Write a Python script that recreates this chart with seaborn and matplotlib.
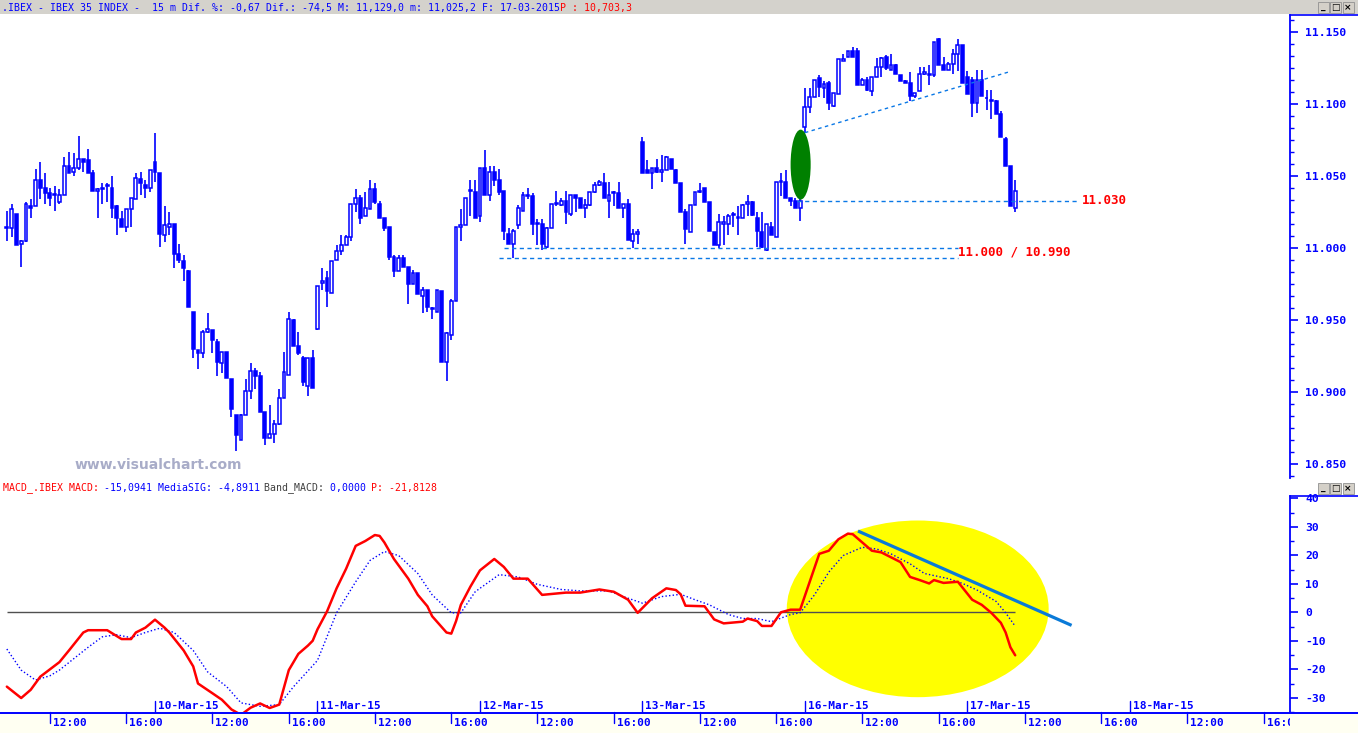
import numpy as np
import pandas as pd
import matplotlib
matplotlib.use("Agg")
import matplotlib.pyplot as plt
import matplotlib.transforms as mtrans
from matplotlib.patches import Ellipse, Rectangle
from matplotlib.lines import Line2D
import seaborn as sns

# ------------------------------------------------------------------ data
# 15-minute bars, bar 0 = 09-Mar-15 09:00, 34 bars per trading day
first_bar = 3
bars_per_day = 34
trading_days = ["09-Mar-15", "10-Mar-15", "11-Mar-15", "12-Mar-15",
                "13-Mar-15", "16-Mar-15", "17-Mar-15", "18-Mar-15"]
hour_labels = ["12:00", "16:00"]

opens = [11014, 11014, 11024, 11003, 11005, 11029, 11029, 11047, 11042, 11038,
         11037, 11032, 11037, 11057, 11053, 11056, 11062, 11061, 11052, 11040,
         11041, 11044, 11042, 11029, 11020, 11015, 11027, 11034, 11048, 11044,
         11042, 11060, 11052, 11009, 11015, 11017, 10996, 10991, 10984, 10956,
         10929, 10927, 10942, 10943, 10935, 10920, 10928, 10909, 10884, 10867,
         10884, 10901, 10915, 10911, 10886, 10868, 10871, 10878, 10896, 10912,
         10950, 10932, 10924, 10904, 10924, 10944, 10976, 10979, 10969, 10992,
         10998, 11002, 11008, 11031, 11035, 11022, 11027, 11041, 11031, 11021,
         11015, 10994, 10984, 10993, 10987, 10975, 10983, 10967, 10971, 10958,
         10956, 10970, 10921, 10940, 10963, 11015, 11016, 11040, 11039, 11022,
         11056, 11037, 11053, 11047, 11040, 11010, 11003, 11016, 11026, 11037,
         11036, 11017, 11017, 11001, 11014, 11031, 11030, 11033, 11024, 11037,
         11035, 11028, 11030, 11039, 11044, 11045, 11033, 11038, 11038, 11028,
         11031, 11005, 11010, 11074, 11054, 11052, 11056, 11053, 11054, 11062,
         11054, 11045, 11025, 11011, 11030, 11039, 11042, 11032, 11011, 11002,
         11017, 11017, 11024, 11021, 11021, 11031, 11032, 11021, 11011, 10999,
         11015, 11008, 11046, 11046, 11035, 11033, 11028, 11084, 11098, 11105,
         11118, 11111, 11115, 11099, 11107, 11130, 11133, 11137, 11137, 11113,
         11117, 11109, 11119, 11126, 11133, 11124, 11127, 11120, 11116, 11115,
         11106, 11109, 11121, 11120, 11120, 11145, 11127, 11124, 11128, 11135,
         11141, 11119, 11117, 11101, 11117, 11104, 11103, 11102, 11093, 11076,
         11057, 11028]
highs = [11026, 11031, 11024, 11006, 11032, 11034, 11055, 11060, 11052, 11042,
         11043, 11041, 11063, 11067, 11066, 11078, 11062, 11069, 11054, 11042,
         11045, 11045, 11050, 11030, 11026, 11027, 11035, 11052, 11053, 11047,
         11054, 11080, 11052, 11029, 11025, 11017, 11003, 10995, 10985, 10956,
         10929, 10943, 10955, 10943, 10937, 10928, 10928, 10909, 10884, 10885,
         10909, 10920, 10917, 10914, 10886, 10891, 10881, 10902, 10928, 10956,
         10951, 10942, 10925, 10924, 10929, 10974, 10986, 10984, 10991, 11002,
         11009, 11009, 11031, 11041, 11037, 11039, 11047, 11045, 11033, 11021,
         11015, 10995, 10995, 10995, 10987, 10985, 10983, 10973, 10971, 10959,
         10971, 10970, 10942, 10965, 11015, 11027, 11035, 11047, 11047, 11056,
         11068, 11057, 11057, 11055, 11040, 11014, 11013, 11030, 11039, 11042,
         11038, 11020, 11020, 11015, 11031, 11040, 11035, 11040, 11037, 11037,
         11035, 11034, 11039, 11046, 11047, 11052, 11046, 11040, 11046, 11031,
         11034, 11013, 11013, 11077, 11061, 11056, 11062, 11065, 11064, 11062,
         11055, 11045, 11027, 11030, 11039, 11045, 11042, 11032, 11011, 11024,
         11022, 11024, 11025, 11029, 11031, 11037, 11033, 11025, 11025, 11017,
         11018, 11046, 11052, 11054, 11035, 11035, 11036, 11111, 11111, 11117,
         11120, 11116, 11116, 11108, 11131, 11135, 11137, 11140, 11139, 11118,
         11119, 11119, 11132, 11133, 11134, 11135, 11128, 11120, 11117, 11122,
         11108, 11126, 11126, 11127, 11143, 11146, 11133, 11129, 11138, 11145,
         11141, 11123, 11119, 11124, 11124, 11110, 11110, 11103, 11095, 11077,
         11057, 11047]
lows = [11005, 11008, 11002, 10987, 11004, 11021, 11029, 11034, 11031, 11029,
        11026, 11031, 11037, 11052, 11050, 11054, 11053, 11052, 11040, 11021,
        11031, 11032, 11021, 11009, 11015, 11011, 11015, 11034, 11037, 11035,
        11039, 11046, 11001, 11004, 11009, 10986, 10990, 10977, 10959, 10924,
        10916, 10924, 10941, 10927, 10911, 10913, 10910, 10883, 10859, 10867,
        10884, 10895, 10902, 10886, 10863, 10868, 10865, 10877, 10896, 10912,
        10932, 10926, 10904, 10897, 10903, 10943, 10971, 10959, 10969, 10992,
        10995, 11002, 11005, 11025, 11017, 11022, 11027, 11031, 11021, 11012,
        10992, 10980, 10984, 10987, 10961, 10975, 10968, 10955, 10956, 10951,
        10956, 10921, 10908, 10936, 10963, 11005, 11016, 11022, 11021, 11018,
        11037, 11033, 11043, 11037, 11006, 11003, 10993, 11013, 11026, 11034,
        11009, 11002, 10999, 11000, 11014, 11029, 11029, 11017, 11022, 11025,
        11028, 11021, 11029, 11038, 11043, 11035, 11021, 11029, 11028, 11021,
        11006, 11000, 11003, 11052, 11052, 11041, 11052, 11046, 11054, 11055,
        11045, 11025, 11003, 11011, 11030, 11038, 11032, 11012, 11002, 11000,
        11002, 11009, 11015, 11009, 11021, 11022, 11022, 11001, 11000, 10998,
        11009, 11008, 11036, 11035, 11029, 11028, 11019, 11080, 11094, 11105,
        11105, 11104, 11096, 11098, 11107, 11130, 11133, 11133, 11113, 11113,
        11109, 11106, 11119, 11119, 11124, 11124, 11121, 11116, 11115, 11102,
        11104, 11109, 11120, 11113, 11119, 11127, 11124, 11124, 11121, 11123,
        11115, 11107, 11091, 11094, 11106, 11096, 11090, 11093, 11077, 11057,
        11029, 11025]
closes = [11014, 11027, 11002, 11005, 11031, 11028, 11047, 11042, 11038, 11035,
          11037, 11037, 11057, 11052, 11056, 11062, 11060, 11052, 11040, 11041,
          11042, 11043, 11028, 11021, 11015, 11027, 11035, 11049, 11045, 11042,
          11054, 11053, 11010, 11016, 11017, 10996, 10992, 10986, 10959, 10930,
          10927, 10942, 10944, 10936, 10921, 10928, 10910, 10888, 10870, 10884,
          10901, 10915, 10911, 10886, 10868, 10871, 10878, 10896, 10914, 10951,
          10932, 10927, 10907, 10924, 10903, 10974, 10977, 10970, 10991, 10998,
          11002, 11008, 11031, 11035, 11021, 11028, 11041, 11032, 11021, 11014,
          10994, 10984, 10993, 10987, 10975, 10983, 10968, 10971, 10959, 10958,
          10971, 10921, 10941, 10963, 11015, 11016, 11035, 11040, 11021, 11056,
          11037, 11053, 11047, 11039, 11012, 11003, 11012, 11028, 11037, 11036,
          11017, 11017, 11003, 11014, 11031, 11031, 11033, 11025, 11037, 11035,
          11028, 11030, 11039, 11044, 11046, 11035, 11037, 11039, 11028, 11031,
          11006, 11010, 11011, 11052, 11052, 11056, 11053, 11054, 11063, 11055,
          11045, 11025, 11013, 11030, 11039, 11040, 11032, 11012, 11002, 11018,
          11018, 11022, 11023, 11021, 11030, 11032, 11023, 11012, 11001, 11017,
          11009, 11046, 11046, 11035, 11033, 11028, 11033, 11098, 11105, 11117,
          11112, 11114, 11101, 11108, 11131, 11131, 11137, 11133, 11113, 11117,
          11110, 11119, 11126, 11132, 11125, 11127, 11121, 11116, 11115, 11106,
          11108, 11121, 11122, 11121, 11143, 11127, 11124, 11128, 11135, 11141,
          11115, 11107, 11101, 11117, 11106, 11104, 11102, 11093, 11077, 11057,
          11029, 11040]

macd_bars = [3, 6, 8, 10, 14, 16, 19, 20, 24, 27, 29, 30, 32, 34, 36, 37, 40, 42, 43, 46,
             48, 50, 52, 54, 56, 58, 60, 62, 64, 66, 67, 68, 70, 72, 74, 76, 78, 80, 81, 82,
             84, 87, 89, 91, 92, 95, 96, 97, 98, 100, 102, 105, 107, 109, 112, 115, 120, 123, 127, 130,
             133, 135, 138, 141, 143, 144, 145, 149, 151, 153, 157, 158, 160, 161, 163, 165, 167, 169, 171, 173,
             175, 177, 179, 180, 184, 186, 190, 192, 194, 196, 197, 199, 202, 205, 207, 209, 211, 212, 213, 214]
macd_vals = [-26.1, -30.1, -27.2, -22.6, -17.5, -13.4, -7.1, -6.3, -6.3, -9.4, -9.4, -7.1, -5.4, -2.6, -5.4, -7.1, -13.4, -19.0, -25.0, -28.4,
             -30.7, -34.1, -36.0, -33.5, -32.0, -33.6, -32.4, -20.3, -14.6, -11.7, -10.0, -6.0, 0.3, 8.4, 15.3, 23.3, 25.0, 27.1, 26.8, 24.5,
             18.7, 11.8, 6.1, 2.1, -1.4, -7.1, -7.5, -3.1, 2.6, 9.0, 14.7, 18.7, 15.9, 11.8, 11.8, 6.1, 6.9, 6.9, 8.0, 7.2,
             4.4, -0.2, 4.9, 8.4, 7.8, 6.3, 2.3, 2.1, -2.5, -3.9, -3.3, -2.2, -3.1, -4.8, -4.8, 0.0, 0.9, 0.9, 10.7, 20.5,
             21.6, 25.6, 27.6, 27.4, 21.6, 21.0, 17.6, 12.4, 11.3, 10.1, 11.3, 10.3, 10.7, 4.4, 2.6, -0.2, -3.7, -7.1, -12.3, -15.1]
signal_bars = [3, 6, 9, 12, 14, 20, 23, 26, 29, 32, 35, 38, 42, 45, 49, 52, 56, 60, 63, 68,
               72, 76, 79, 82, 85, 89, 92, 96, 98, 101, 106, 110, 114, 119, 123, 129, 132, 136, 140, 144,
               147, 150, 154, 157, 160, 163, 167, 169, 172, 175, 178, 182, 185, 188, 192, 195, 200, 203, 206, 210,
               212, 214]
signal_vals = [-12.9, -20.3, -23.8, -22.3, -20.3, -12.3, -8.6, -7.9, -8.9, -7.1, -5.6, -7.1, -13.4, -20.9, -26.1, -31.8, -33.0, -32.4, -26.1, -16.9,
               -0.2, 10.7, 18.2, 21.3, 19.9, 13.6, 6.1, -0.2, -0.2, 7.2, 13.2, 12.4, 9.8, 8.0, 7.5, 7.5, 5.5, 3.2, 5.5, 6.3,
               4.4, 2.6, -0.8, -2.2, -2.2, -3.3, -0.8, -0.2, 6.1, 14.1, 19.9, 22.8, 22.2, 20.5, 17.0, 13.6, 11.8, 10.1, 7.8, 3.8,
               -0.2, -4.9]

price_ticks = [10850, 10900, 10950, 11000, 11050, 11100, 11150]
macd_ticks = [-30, -20, -10, 0, 10, 20, 30, 40]
support_levels = [11033, 11000, 10993]

title_parts = [(".IBEX - IBEX 35 INDEX -  15 m Dif. %: -0,67 Dif.: -74,5 M: 11,129,0 m: 11,025,2 F: 17-03-2015 ", "#0000ff"),
               ("P : 10,703,3", "#ff0000")]
macd_parts = [("MACD_.IBEX MACD: ", "#ff0000"), ("-15,0941 MediaSIG: -4,8911 ", "#0000ff"),
              ("Band_MACD: ", "#404040"), ("0,0000 ", "#0000ff"), ("P: -21,8128", "#ff0000")]

# ------------------------------------------------------------------ style
sns.set_style("white")
plt.rcParams["font.family"] = ["DejaVu Sans Mono", "DejaVu Sans"]
plt.rcParams["axes.unicode_minus"] = False

BLUE = "#0000ff"
LBLUE = "#0a78e6"
RED = "#ff0000"
W, H = 1358, 733
fig = plt.figure(figsize=(W / 100, H / 100), dpi=100)
fig.patch.set_facecolor("white")


def box(x0, y0, x1, y1):
    return [x0 / W, 1 - y1 / H, (x1 - x0) / W, (y1 - y0) / H]


def fx(px):
    return px / W


def fy(py):
    return 1 - py / H


XLIM = (7.5 / 4.779, 1297.5 / 4.779)

# background strips
fig.add_artist(Rectangle((0, fy(14)), 1, 14 / H, transform=fig.transFigure,
                         facecolor="#d4d2cc", edgecolor="none", zorder=0))
fig.add_artist(Rectangle((0, 0), 1, 21 / H, transform=fig.transFigure,
                         facecolor="#fffff2", edgecolor="none", zorder=0))

ax_p = fig.add_axes(box(0, 15, 1290, 478))
ax_m = fig.add_axes(box(0, 496, 1290, 712))
ax_t = fig.add_axes(box(0, 712, 1290, 733))
for ax in (ax_p, ax_m, ax_t):
    ax.set_facecolor("none")
    for s in ax.spines.values():
        s.set_visible(False)
    ax.set_xlim(*XLIM)
    ax.set_xticks([])
    ax.set_xlabel("")
    ax.set_ylabel("")
ax_t.set_ylim(0, 1)
ax_t.set_yticks([])

# ------------------------------------------------------------------ candles
df = pd.DataFrame({"bar": np.arange(first_bar, first_bar + len(opens)),
                   "open": opens, "high": highs, "low": lows, "close": closes})
df["up"] = df["close"] >= df["open"]
df["bottom"] = np.minimum(df["open"], df["close"])
df["height"] = np.maximum((df["close"] - df["open"]).abs(), 0.35)

ax_p.vlines(df["bar"], df["low"], df["high"], color=BLUE, lw=1.2, zorder=2)
up = df[df["up"]]
dn = df[~df["up"]]
ax_p.bar(up["bar"], up["height"], bottom=up["bottom"], width=0.6,
         facecolor="white", edgecolor=BLUE, lw=1.1, zorder=3)
ax_p.bar(dn["bar"], dn["height"], bottom=dn["bottom"], width=0.6,
         facecolor=BLUE, edgecolor=BLUE, lw=1.1, zorder=3)
ax_p.set_ylim(10840.4, 11161.9)

# annotations on price
ax_p.hlines(support_levels, [168.3, 107.0, 106.0], [227.1, 202.0, 202.0],
            colors=LBLUE, lw=1.0, linestyles=[(0, (3, 2.5))], zorder=4)
ax_p.plot([170.0, 212.9], [11080.2, 11122.6], color=LBLUE, lw=1.0,
          linestyle=(0, (2.5, 2.5)), zorder=4)
ax_p.add_patch(Ellipse((169.1, 11058), width=4.2, height=48.6,
                       facecolor="#008000", edgecolor="none", zorder=6))
ax_p.text(227.9, support_levels[0], "11.030", color=RED, fontsize=9,
          fontweight="bold", va="center", ha="left", zorder=7)
ax_p.text(202.0, 10997, "11.000 / 10.990", color=RED, fontsize=9,
          fontweight="bold", va="center", ha="left", zorder=7)

# price y axis
ax_p.yaxis.tick_right()
ax_p.set_yticks(price_ticks, labels=[f"{v / 1000:.3f}" for v in price_ticks],
                fontweight="bold")
ax_p.set_yticks(np.arange(10850 - 50 / 6, 11165, 50 / 6), minor=True)
ax_p.spines["right"].set_visible(True)
ax_p.spines["right"].set_color(BLUE)
ax_p.spines["right"].set_linewidth(1.3)

# ------------------------------------------------------------------ MACD
ax_m.add_patch(Ellipse((193.6, 1.2), width=54.8, height=62.0,
                       facecolor="#ffff00", edgecolor="none", zorder=1))
ax_m.hlines(0, macd_bars[0], macd_bars[-1], color="#505050", lw=1.0, zorder=3)
sns.lineplot(x=signal_bars, y=signal_vals, ax=ax_m, color=BLUE, lw=1.0,
             linestyle=(0, (1, 1.6)), zorder=4)
sns.lineplot(x=macd_bars, y=macd_vals, ax=ax_m, color=RED, lw=1.8, zorder=5)
ax_m.plot([181.1, 225.8], [28.5, -4.6], color="#0a7ad8", lw=2.3,
          solid_capstyle="butt", zorder=6)
ax_m.set_ylim(-33.7, 40.8)
ax_m.set_xlim(*XLIM)
ax_m.set_xlabel("")
ax_m.set_ylabel("")
ax_m.yaxis.tick_right()
ax_m.set_yticks(macd_ticks, labels=[str(v) for v in macd_ticks], fontweight="bold")
ax_m.set_yticks(np.arange(-35, 41, 5), minor=True)
ax_m.spines["right"].set_visible(True)
ax_m.spines["right"].set_color(BLUE)
ax_m.spines["right"].set_linewidth(1.3)

for ax in (ax_p, ax_m):
    ax.tick_params(axis="y", which="major", direction="out", length=6, width=1.2,
                   color=BLUE, labelcolor=BLUE, labelsize=8.2, pad=5,
                   right=True, left=False, labelright=True, labelleft=False)
    ax.tick_params(axis="y", which="minor", direction="out", length=3, width=1.0,
                   color=BLUE, right=True, left=False)

# ------------------------------------------------------------------ time axis
trans_m = mtrans.blended_transform_factory(ax_m.transData, ax_m.transAxes)
trans_t = mtrans.blended_transform_factory(ax_t.transData, ax_t.transAxes)
for d, lab in enumerate(trading_days):
    xb = d * bars_per_day
    if XLIM[0] <= xb <= XLIM[1]:
        ax_m.plot([xb, xb], [0, 11 / 216], transform=trans_m, color=BLUE, lw=1.0,
                  clip_on=False, zorder=7)
        ax_m.text(xb, 6 / 216, lab,
                  transform=mtrans.offset_copy(trans_m, fig=fig, x=3, y=0, units="dots"),
                  color=BLUE, fontsize=8, fontweight="bold", va="center", ha="left",
                  zorder=7)
    for hl in hour_labels:
        hh, mm = map(int, hl.split(":"))
        xt = d * bars_per_day + (hh * 60 + mm - 9 * 60) // 15
        if XLIM[0] <= xt <= XLIM[1]:
            ax_t.plot([xt, xt], [1, 0.5], transform=trans_t, color=BLUE, lw=1.0,
                      clip_on=False)
            ax_t.text(xt, 0.5, hl,
                      transform=mtrans.offset_copy(trans_t, fig=fig, x=3, y=0, units="dots"),
                      color=BLUE, fontsize=8, fontweight="bold", va="center",
                      ha="left", clip_on=True)

# frame lines
fig.add_artist(Line2D([0, 1], [fy(712.5)] * 2, transform=fig.transFigure,
                      color=BLUE, lw=1.4))
for yy in (15, 496):
    fig.add_artist(Line2D([fx(1290), 1], [fy(yy)] * 2, transform=fig.transFigure,
                          color=BLUE, lw=1.2))

# ------------------------------------------------------------------ header texts
def seg_text(x_px, y_px, parts, size):
    cw = 0.6021 * size * 100 / 72
    for txt, col in parts:
        fig.text(fx(x_px), fy(y_px), txt, color=col, fontsize=size,
                 va="center", ha="left", family="DejaVu Sans Mono")
        x_px += len(txt) * cw


seg_text(2, 7.5, title_parts, 7.1)
seg_text(3, 488, macd_parts, 7.1)

fig.text(fx(75), fy(465), "www.visualchart.com", color="#a8acc8", fontsize=10,
         fontweight="bold", family="DejaVu Sans", va="center", ha="left")


def win_buttons(ytop):
    for i, g in enumerate(["_", "\u25a1", "\u00d7"]):
        x0 = 1318 + i * 12.3
        fig.add_artist(Rectangle((fx(x0), fy(ytop + 11)), 11 / W, 11 / H,
                                 transform=fig.transFigure, facecolor="#d4d0c8",
                                 edgecolor="#909090", lw=0.6))
        fig.text(fx(x0 + 5.5), fy(ytop + 5.5), g, ha="center", va="center",
                 fontsize=6.5, color="black", family="DejaVu Sans", fontweight="bold")


win_buttons(2)
win_buttons(483)

fig.savefig("out.png", dpi=100, facecolor=fig.get_facecolor())
